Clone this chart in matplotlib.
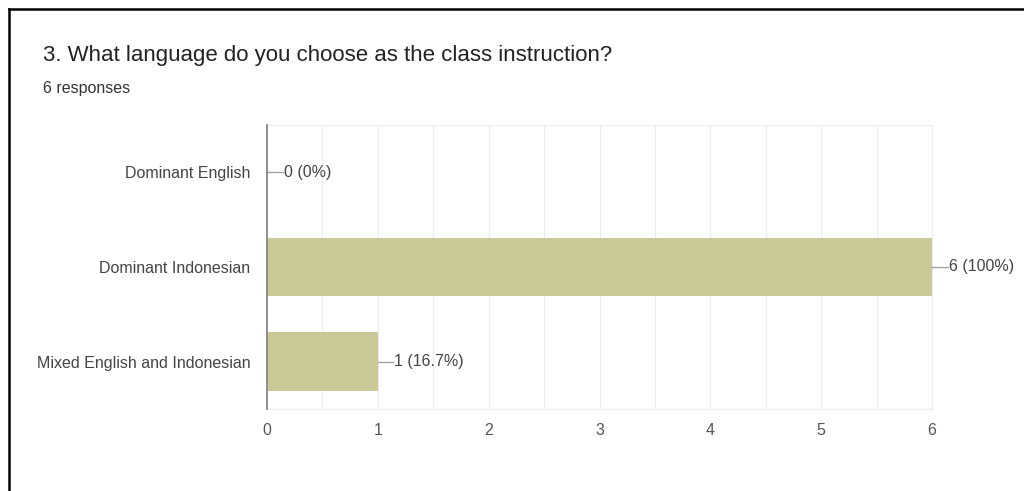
import matplotlib.pyplot as plt
from matplotlib.lines import Line2D

plt.rcParams['font.family'] = ['Liberation Sans', 'DejaVu Sans']

title = '3. What language do you choose as the class instruction?'
subtitle = '6 responses'
categories = ['Dominant English', 'Dominant Indonesian', 'Mixed English and Indonesian']
counts = [0, 6, 1]
labels = ['0 (0%)', '6 (100%)', '1 (16.7%)']

bar_color = '#c9c897'

fig = plt.figure(figsize=(10.24, 4.91), dpi=100)
ax = fig.add_axes([267 / 1024, 1 - 409 / 491, 665 / 1024, 284 / 491])

y = list(range(len(categories)))
ax.barh(y, counts, height=0.62, color=bar_color, zorder=2)

# value labels with a short leader line
for yi, c, lab in zip(y, counts, labels):
    ax.plot([c, c + 0.14], [yi, yi], color='#9e9e9e', lw=0.9, zorder=3, clip_on=False)
    ax.text(c + 0.15, yi, lab, va='center', ha='left', fontsize=11.5, color='#444444')

ax.set_xlim(0, 6)
ax.set_ylim(2.5, -0.5)
ax.set_yticks(y)
ax.set_yticklabels(categories, fontsize=11.5, color='#444444')
ax.set_xticks(range(7))
ax.set_xticks([i + 0.5 for i in range(6)], minor=True)
ax.tick_params(axis='x', labelsize=11.5, labelcolor='#555555', length=0, pad=10)
ax.tick_params(axis='x', which='minor', length=0)
ax.tick_params(axis='y', length=0, pad=12)
ax.grid(axis='x', which='both', color='#ececec', lw=0.8, zorder=0)

for s in ['top', 'right', 'bottom']:
    ax.spines[s].set_color('#eeeeee')
    ax.spines[s].set_linewidth(0.8)
ax.spines['left'].set_color('#888888')
ax.spines['left'].set_linewidth(1.3)
ax.spines['left'].set_zorder(4)

fig.text(43 / 1024, 1 - 55 / 491, title, fontsize=16, color='#222222', va='center')
fig.text(43 / 1024, 1 - 88 / 491, subtitle, fontsize=11.5, color='#333333', va='center')

# frame of the screenshot
fig.add_artist(Line2D([9 / 1024, 1], [1 - 9 / 491, 1 - 9 / 491], color='black', lw=1.8))
fig.add_artist(Line2D([9 / 1024, 9 / 1024], [0, 1 - 9 / 491], color='black', lw=1.8))

fig.savefig('out.png', dpi=100)
